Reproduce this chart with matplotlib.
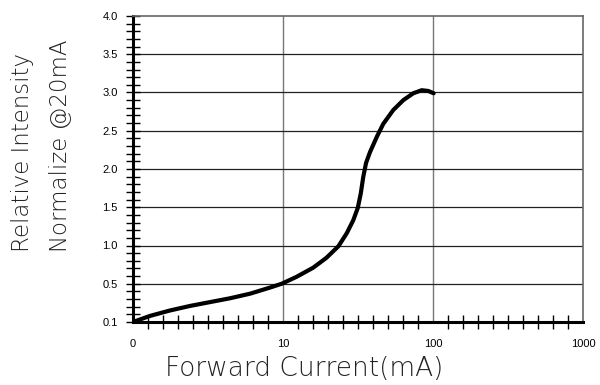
import numpy as np
import matplotlib

matplotlib.use("Agg")
import matplotlib.pyplot as plt
from matplotlib.ticker import FixedLocator, NullFormatter

# forward current (mA) vs relative intensity normalised at 20 mA
current_ma = [1, 1.30, 1.76, 2.40, 3.26, 4.43, 6.03, 8.19, 9.8, 12.3, 15.9, 19.5,
              23.4, 26.6, 29.4, 31.5, 33.0, 34.3, 35.8, 38.0, 42.2, 46.6, 54.3,
              63.4, 73.9, 84.1, 93.0, 101]
intensity = [0.0, 0.08, 0.15, 0.21, 0.26, 0.31, 0.37, 0.45, 0.50, 0.59, 0.71, 0.84,
             0.99, 1.16, 1.33, 1.49, 1.68, 1.90, 2.08, 2.22, 2.42, 2.59, 2.77,
             2.90, 2.99, 3.03, 3.02, 2.99]

x_ticks = [1, 10, 100, 1000]
x_labels = ["0", "10", "100", "1000"]
y_ticks = [0, 0.5, 1.0, 1.5, 2.0, 2.5, 3.0, 3.5, 4.0]
y_labels = ["0.1", "0.5", "1.0", "1.5", "2.0", "2.5", "3.0", "3.5", "4.0"]

fig = plt.figure(figsize=(6, 3.85), dpi=100)
ax = fig.add_axes([133 / 600, 1 - 322 / 385, 450 / 600, 306 / 385])

ax.set_xscale("log")
ax.set_xlim(1, 1000)
ax.set_ylim(0, 4.0)

# grid: vertical decade lines grey, horizontal lines dark
for xv in x_ticks[1:-1]:
    ax.axvline(xv, color="#777777", lw=1.0, zorder=1)
for yv in y_ticks[1:-1]:
    ax.axhline(yv, color="#222222", lw=0.9, zorder=1)

ax.plot(current_ma, intensity, color="black", lw=3.0, solid_capstyle="round",
        solid_joinstyle="round", zorder=3)

for side in ("top", "right"):
    ax.spines[side].set_color("#666666")
    ax.spines[side].set_linewidth(1.2)
for side in ("left", "bottom"):
    ax.spines[side].set_color("black")
    ax.spines[side].set_linewidth(2.2)

# x ticks: labels only at decades, evenly spaced minor marks inside each decade
ax.xaxis.set_major_locator(FixedLocator(x_ticks))
ax.set_xticklabels(x_labels)
minor_x = [10 ** (d + j / 10) for d in range(3) for j in range(1, 10)]
ax.xaxis.set_minor_locator(FixedLocator(minor_x))
ax.xaxis.set_minor_formatter(NullFormatter())
ax.tick_params(axis="x", which="major", length=0, pad=12)
ax.tick_params(axis="x", which="minor", direction="inout", length=10, width=1.0)

ax.yaxis.set_major_locator(FixedLocator(y_ticks))
ax.set_yticklabels(y_labels)
ax.yaxis.set_minor_locator(FixedLocator(np.arange(0.1, 4.0, 0.1)))
ax.tick_params(axis="y", which="both", direction="inout", length=10, width=1.0)
ax.tick_params(axis="y", which="major", pad=6)

for lbl in ax.get_xticklabels() + ax.get_yticklabels():
    lbl.set_fontfamily("Liberation Sans")
    lbl.set_fontsize(8)

label_font = dict(family="DejaVu Sans", fontweight="light", color="#222222")
fig.text(304 / 600, 1 - 368 / 385, "Forward Current(mA)", ha="center", va="center",
         fontsize=19, **label_font)
fig.text(23 / 600, 1 - 252 / 385, "Relative Intensity", rotation=90, ha="center",
         va="bottom", fontsize=16.5, **label_font)
fig.text(61 / 600, 1 - 252 / 385, "Normalize @20mA", rotation=90, ha="center",
         va="bottom", fontsize=16.5, **label_font)

fig.savefig("out.png", dpi=100)
